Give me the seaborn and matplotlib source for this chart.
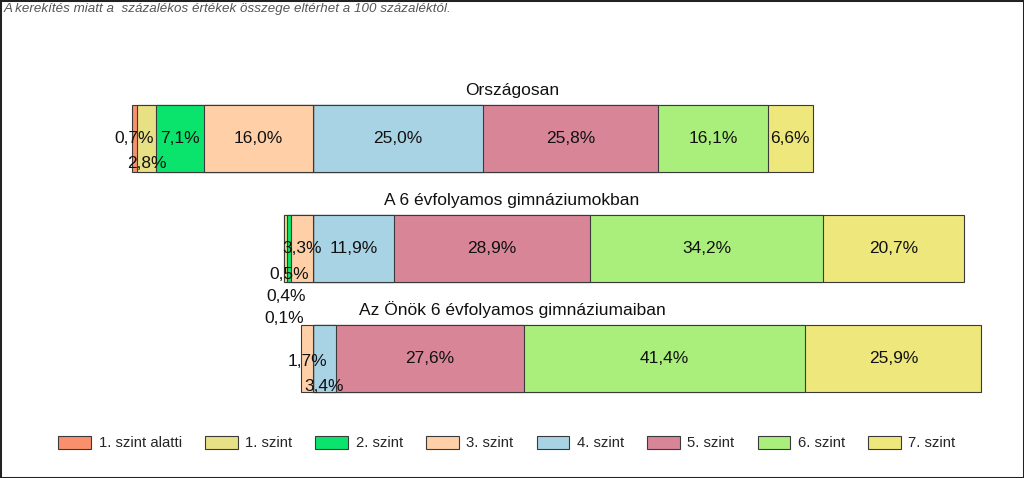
import numpy as np
import pandas as pd
import seaborn as sns
import matplotlib
matplotlib.use("Agg")
import matplotlib.pyplot as plt
from matplotlib.patches import Patch, Rectangle

# ---------------- data ----------------
groups = ["Országosan", "A 6 évfolyamos gimnáziumokban", "Az Önök 6 évfolyamos gimnáziumaiban"]
levels = ["1. szint alatti", "1. szint", "2. szint", "3. szint",
          "4. szint", "5. szint", "6. szint", "7. szint"]
orszagos = [0.7, 2.8, 7.1, 16.0, 25.0, 25.8, 16.1, 6.6]
gimn6 = [0.1, 0.4, 0.5, 3.3, 11.9, 28.9, 34.2, 20.7]
onok6 = [0.0, 0.0, 0.0, 1.7, 3.4, 27.6, 41.4, 25.9]
colors = ["#FA8F6E", "#E8E084", "#0BE46C", "#FFD0A8",
          "#A8D3E4", "#D88598", "#AAEE7C", "#EEE87C"]

values = np.array([orszagos, gimn6, onok6])
n_neg = 4  # levels left of the zero line (1. szint alatti .. 3. szint)

# label vertical offsets (pixels downwards) to avoid overlaps, as in the original
label_shift = {(0, 1): 25, (1, 0): 70, (1, 1): 48, (1, 2): 26, (2, 3): 3, (2, 4): 28}

# ---------------- style ----------------
sns.set_theme(style="white")
plt.rcParams["font.family"] = ["Liberation Sans", "DejaVu Sans"]

W, H = 1024, 478
fig = plt.figure(figsize=(W / 100, H / 100), dpi=100)

PX_PER_UNIT = 6.8
ZERO_PX = 313
ax_left_px, ax_right_px = 100, 1000
ax_top_px, ax_bot_px = 40, 420
ROW0_PX, ROW_STEP = 138.5, 110.0

ax = fig.add_axes([ax_left_px / W, 1 - ax_bot_px / H,
                   (ax_right_px - ax_left_px) / W, (ax_bot_px - ax_top_px) / H])

edge = "#3a3a3a"
bar_w = 67 / ROW_STEP

# right side: cumulative from zero, longest first
for k in range(len(levels) - 1, n_neg - 1, -1):
    cum = values[:, n_neg:k + 1].sum(axis=1)
    df = pd.DataFrame({"group": groups, "val": cum})
    sns.barplot(data=df, x="val", y="group", orient="h", color=colors[k],
                saturation=1, width=bar_w, edgecolor=edge, linewidth=0.8, ax=ax)
# left side: negative cumulative, longest first
for k in range(n_neg):
    cum = -values[:, k:n_neg].sum(axis=1)
    cum = np.where(values[:, k] > 0, cum, 0.0)
    df = pd.DataFrame({"group": groups, "val": cum})
    sns.barplot(data=df, x="val", y="group", orient="h", color=colors[k],
                saturation=1, width=bar_w, edgecolor=edge, linewidth=0.8, ax=ax)

ax.set_xlim((ax_left_px - ZERO_PX) / PX_PER_UNIT, (ax_right_px - ZERO_PX) / PX_PER_UNIT)
ax.set_ylim((ax_bot_px - ROW0_PX) / ROW_STEP, (ax_top_px - ROW0_PX) / ROW_STEP)
ax.axis("off")

# data labels
for i in range(len(groups)):
    starts = np.concatenate([[-values[i, :n_neg].sum()], -values[i, :n_neg].sum() + np.cumsum(values[i])])
    for k in range(len(levels)):
        v = values[i, k]
        if v <= 0:
            continue
        xc = starts[k] + v / 2
        yc = i + label_shift.get((i, k), 0) / ROW_STEP
        ax.text(xc, yc, f"{v:.1f}%".replace(".", ","), ha="center", va="center",
                fontsize=12.5, color="#111111")

# row titles
for i, g in enumerate(groups):
    ypx = ROW0_PX + i * ROW_STEP - 48.5
    fig.text(512 / W, 1 - ypx / H, g, ha="center", va="center", fontsize=12.5, color="#111111")

# footnote
fig.text(4 / W, 1 - 9 / H, "A kerekítés miatt a  százalékos értékek összege eltérhet a 100 százaléktól.",
         ha="left", va="center", fontsize=9.6, style="italic", color="#555555",
         family=["Liberation Sans Narrow", "Liberation Sans", "DejaVu Sans"])

# legend
handles = [Patch(facecolor=c, edgecolor=edge, linewidth=0.8) for c in colors]
fig.legend(handles, levels, loc="center", bbox_to_anchor=(507 / W, 1 - 443 / H), ncol=8,
           frameon=False, fontsize=10.7, handlelength=2.2, handleheight=0.95,
           handletextpad=0.5, columnspacing=1.56)

# outer frame
fig.patches.append(Rectangle((0, 0), 1, 1, transform=fig.transFigure, fill=False,
                             edgecolor="#222222", linewidth=2.2))

fig.savefig("out.png", dpi=100)
